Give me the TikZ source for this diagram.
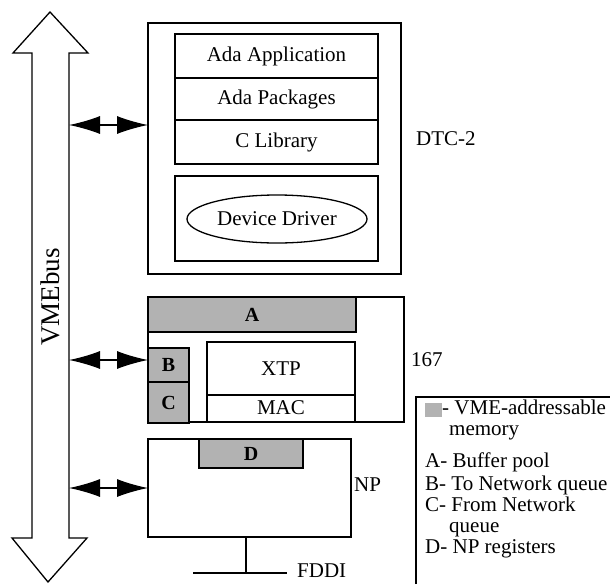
\documentclass[tikz,border=0pt]{standalone}
\usepackage{fontspec}
\setmainfont{Liberation Serif}
\usetikzlibrary{arrows.meta,shapes.geometric}
\tikzset{
  box/.style={draw, line width=1.3pt, rectangle, anchor=north west, inner sep=0pt, outer sep=0pt},
  shaded/.style={box, fill=black!30},
  lbl/.style={inner sep=0pt, font=\fontsize{21}{23}\selectfont},
  bl/.style={inner sep=0pt, font=\fontsize{20}{22}\selectfont\bfseries},
  leg/.style={inner sep=0pt, anchor=west, text height=13pt, text depth=4pt, font=\fontsize{21}{23}\selectfont},
  link/.style={line width=1.1pt, {Latex[length=31pt,width=18pt]}-{Latex[length=31pt,width=18pt]}},
  thick line/.style={line width=1.3pt}
}
\begin{document}
\begin{tikzpicture}[x=1pt,y=-1pt]
\useasboundingbox (0,0) rectangle (610,584);
% VMEbus double arrow
\draw[thick line, line join=miter] (50,12) -- (88,53) -- (69,53) -- (69,538) -- (87,538) -- (48,582)
  -- (12,538) -- (32,538) -- (32,53) -- (13,53) -- cycle;
\node[inner sep=0pt, rotate=90, font=\fontsize{27}{29}\selectfont] (vme) at (50,297) {VMEbus};
\coordinate (bus1) at (69,125);
\coordinate (bus2) at (69,360);
\coordinate (bus3) at (69,488);

% DTC-2
\node[box, minimum width=253pt, minimum height=251pt] (dtc) at (148,23) {};
\node[box, minimum width=203pt, minimum height=44pt] (app) at (175,34) {};
\node[box, minimum width=203pt, minimum height=42pt] (pkg) at (175,78) {};
\node[box, minimum width=203pt, minimum height=44pt] (clib) at (175,120) {};
\node[lbl] at (app.center) {Ada Application};
\node[lbl] at (pkg.center) {Ada Packages};
\node[lbl] at (clib.center) {C Library};
\node[box, minimum width=203pt, minimum height=85pt] (drvbox) at (175,176) {};
\node[ellipse, draw, line width=1.3pt, minimum width=180pt, minimum height=48pt, inner sep=0pt, font=\fontsize{21}{23}\selectfont] (drv) at (277,219) {Device Driver};
\node[leg] (dtclbl) at (416,141) {DTC-2};

% 167
\node[box, minimum width=256pt, minimum height=125pt] (cpu) at (148,297) {};
\node[shaded, minimum width=208pt, minimum height=35pt] (A) at (148,297) {};
\node[bl] at (A.center) {A};
\node[shaded, minimum width=41pt, minimum height=34pt] (B) at (148,348) {};
\node[bl] at (B.center) {B};
\node[shaded, minimum width=41pt, minimum height=41pt] (C) at (148,382) {};
\node[bl] at (C.center) {C};
\node[box, minimum width=148pt, minimum height=53pt] (xtp) at (207,342) {};
\node[box, minimum width=148pt, minimum height=27pt] (mac) at (207,395) {};
\node[lbl] at (xtp.center) {XTP};
\node[lbl] at ([yshift=1pt]mac.center) {MAC};
\node[leg] (cpulbl) at (411,362) {167};

% NP
\node[box, minimum width=203pt, minimum height=98pt] (np) at (148,439) {};
\node[shaded, minimum width=104pt, minimum height=29pt] (D) at (199,439) {};
\node[bl] at (D.center) {D};
\node[leg] (nplbl) at (354,487) {NP};
\coordinate (fddiTop) at (246,537);
\coordinate (fddiMid) at (246,573);
\coordinate (fddiL) at (193,573);
\coordinate (fddiR) at (287,573);
\draw[thick line] (fddiTop) -- (fddiMid);
\draw[thick line] (fddiL) -- (fddiR);
\node[leg] (fddi) at (297,573) {FDDI};

% links
\draw[link] (bus1) -- (bus1 -| dtc.west);
\draw[link] (bus2) -- (bus2 -| cpu.west);
\draw[link] (bus3) -- (bus3 -| np.west);

% legend
\coordinate (legBL) at (416,584);
\coordinate (legTL) at (416,397);
\coordinate (legTR) at (610,397);
\draw[thick line] (legBL) -- (legTL) -- (legTR);
\node[draw=none, fill=black!30, minimum width=17pt, minimum height=14pt, inner sep=0pt, anchor=north west] (sw) at (425,403) {};
\node[leg] (l1) at (442,410) {- VME-addressable};
\node[leg] (l1b) at (449,431) {memory};
\node[leg] (l2) at (425,463) {A- Buffer pool};
\node[leg] (l3) at (425,486) {B- To Network queue};
\node[leg] (l4) at (425,507) {C- From Network};
\node[leg] (l4b) at (449,528) {queue};
\node[leg] (l5) at (425,549) {D- NP registers};
\end{tikzpicture}
\end{document}
